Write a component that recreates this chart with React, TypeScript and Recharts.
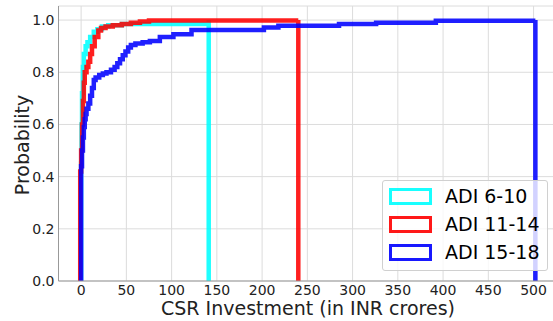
import React from "react";
import {
  LineChart,
  Line,
  XAxis,
  YAxis,
  CartesianGrid,
  Legend,
  Label,
} from "recharts";

// cumulative distribution steps (x = CSR investment, p = probability)
const adi610X = [0, 0, 0.5, 1, 2, 3, 5, 7, 10, 14, 18, 23, 30, 45, 141, 141];
const adi610P = [0, 0.45, 0.6, 0.72, 0.82, 0.87, 0.9, 0.915, 0.935, 0.955, 0.965, 0.975, 0.98, 0.985, 1.0, 0];

const adi1114X = [-1, -1, 0, 1, 2, 3, 4, 6, 8, 10, 12, 15, 19, 22, 27, 35, 45, 55, 65, 75, 240, 240];
const adi1114P = [0, 0.42, 0.5, 0.6, 0.69, 0.76, 0.8, 0.82, 0.84, 0.87, 0.9, 0.935, 0.96, 0.97, 0.975, 0.98, 0.985, 0.99, 0.995, 0.998, 1.0, 0];

const adi1518X = [0, 0, 1, 2, 3, 4, 5, 6, 8, 10, 12, 14, 16, 20, 24, 28, 33, 37, 40, 43, 46, 49, 52, 55, 60, 68, 76, 87, 102, 122, 202, 218, 285, 326, 392, 502, 502];
const adi1518P = [0, 0.44, 0.5, 0.55, 0.59, 0.62, 0.64, 0.66, 0.68, 0.71, 0.74, 0.77, 0.78, 0.79, 0.795, 0.8, 0.81, 0.82, 0.835, 0.85, 0.865, 0.88, 0.895, 0.905, 0.91, 0.915, 0.92, 0.935, 0.946, 0.962, 0.972, 0.978, 0.985, 0.99, 0.997, 1.0, 0];

const seriesNames = ["ADI 6-10", "ADI 11-14", "ADI 15-18"];
const seriesColors = ["#00ffff", "#ff0000", "#0000ff"];

const xTicks = [0, 50, 100, 150, 200, 250, 300, 350, 400, 450, 500];
const yTicks = [0, 0.2, 0.4, 0.6, 0.8, 1.0];

const toRows = (xs: number[], ps: number[]) =>
  xs.map((x, i) => ({ x, p: ps[i] }));

const series = [
  toRows(adi610X, adi610P),
  toRows(adi1114X, adi1114P),
  toRows(adi1518X, adi1518P),
];

const FONT = "'DejaVu Sans', sans-serif";

const LegendBox = () => (
  <div
    style={{
      width: 166,
      height: 91,
      boxSizing: "border-box",
      border: "1px solid #d0d0d0",
      borderRadius: 3,
      background: "rgba(255,255,255,0.8)",
      position: "relative",
      fontFamily: FONT,
      fontSize: 19,
      color: "#000",
    }}
  >
    {seriesNames.map((name, i) => (
      <div
        key={name}
        style={{
          position: "absolute",
          left: 6,
          top: 7 + i * 28,
          height: 17,
          display: "flex",
          alignItems: "center",
        }}
      >
        <div
          style={{
            width: 43,
            height: 17,
            boxSizing: "border-box",
            border: `3.5px solid ${seriesColors[i]}`,
            opacity: 0.9,
            background: "#fff",
          }}
        />
        <span style={{ marginLeft: 13, lineHeight: "17px", whiteSpace: "nowrap" }}>
          {name}
        </span>
      </div>
    ))}
  </div>
);

export default function App() {
  return (
    <div
      style={{
        position: "absolute",
        left: 0,
        top: 0,
        width: 553,
        height: 321,
        overflow: "hidden",
        background: "#fff",
      }}
    >
      <LineChart
        width={560}
        height={321}
        margin={{ top: 6, right: 2, bottom: 0, left: 0 }}
      >
        <CartesianGrid stroke="#dcdcdc" strokeWidth={1} />
        <XAxis
          dataKey="x"
          type="number"
          domain={[-25, 527]}
          ticks={xTicks}
          allowDataOverflow
          height={40}
          tickLine={false}
          tickSize={0}
          tickMargin={4}
          axisLine={{ stroke: "#999" }}
          tick={{ fontSize: 14, fill: "#222", fontFamily: FONT }}
        >
          <Label
            content={() => (
              <text
                x={308}
                y={308}
                textAnchor="middle"
                dominantBaseline="central"
                fontSize={19}
                fontFamily={FONT}
                fill="#222"
              >
                CSR Investment (in INR crores)
              </text>
            )}
          />
        </XAxis>
        <XAxis
          xAxisId="top"
          orientation="top"
          type="number"
          domain={[-25, 527]}
          height={0}
          tick={false}
          tickLine={false}
          axisLine={{ stroke: "#999" }}
        />
        <YAxis
          type="number"
          domain={[0, 1.054]}
          ticks={yTicks}
          allowDataOverflow
          width={58.5}
          tickLine={false}
          tickSize={0}
          tickMargin={4}
          axisLine={{ stroke: "#999" }}
          tickFormatter={(v: number) => v.toFixed(1)}
          tick={{ fontSize: 14, fill: "#222", fontFamily: FONT }}
        >
          <Label
            content={() => (
              <text
                x={22}
                y={145}
                transform="rotate(-90 22 145)"
                textAnchor="middle"
                dominantBaseline="central"
                fontSize={19}
                fontFamily={FONT}
                fill="#222"
              >
                Probability
              </text>
            )}
          />
        </YAxis>
        {series.map((rows, i) => (
          <Line
            key={seriesNames[i]}
            data={rows}
            dataKey="p"
            name={seriesNames[i]}
            type="stepAfter"
            stroke={seriesColors[i]}
            strokeOpacity={0.88}
            strokeWidth={4.5}
            strokeLinejoin="miter"
            dot={false}
            activeDot={false}
            isAnimationActive={false}
          />
        ))}
        <Legend
          layout="vertical"
          align="center"
          verticalAlign="middle"
          wrapperStyle={{ left: 382, top: 180, width: 166, height: 91 }}
          content={() => <LegendBox />}
        />
      </LineChart>
    </div>
  );
}
